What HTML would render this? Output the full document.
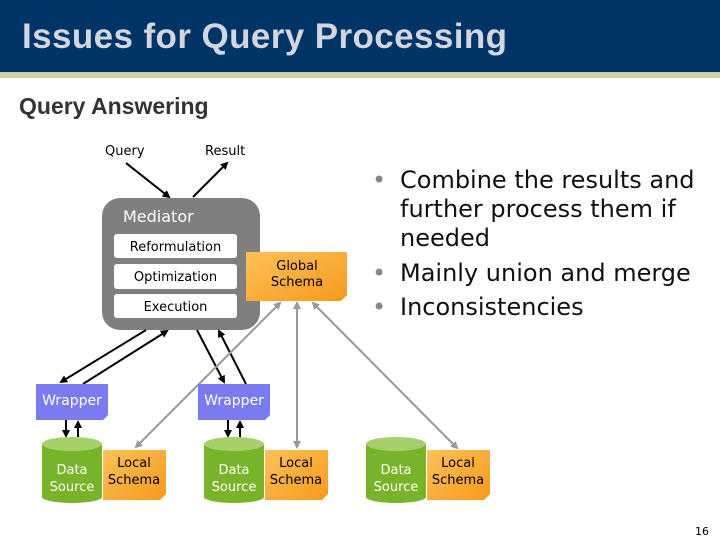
<!DOCTYPE html>
<html><head><meta charset="utf-8"><style>
body{margin:0;width:720px;height:540px;overflow:hidden;background:#fff;font-family:"Liberation Sans","DejaVu Sans",sans-serif}
</style></head><body>
<svg width="720" height="540" viewBox="0 0 720 540" xmlns="http://www.w3.org/2000/svg" font-family="DejaVu Sans, Liberation Sans, sans-serif">
<defs>
<linearGradient id="og" x1="0" y1="0" x2="1" y2="1"><stop offset="0" stop-color="#fdc15a"/><stop offset="1" stop-color="#f59a1c"/></linearGradient>
<marker id="ab" markerWidth="8" markerHeight="8" refX="6" refY="4" orient="auto" markerUnits="userSpaceOnUse"><path d="M0,0 L8,4 L0,8 z" fill="#000"/></marker>
<marker id="ag" markerWidth="8" markerHeight="8" refX="6" refY="4" orient="auto" markerUnits="userSpaceOnUse"><path d="M0,0 L8,4 L0,8 z" fill="#999"/></marker>
<marker id="agr" markerWidth="8" markerHeight="8" refX="2" refY="4" orient="auto" markerUnits="userSpaceOnUse"><path d="M8,0 L0,4 L8,8 z" fill="#999"/></marker>
</defs>
<rect x="0" y="0" width="720" height="72" fill="#003366"/>
<rect x="0" y="72" width="720" height="6" fill="#cfd0a8"/>
<text x="22" y="48" font-family="Liberation Sans, sans-serif" font-weight="bold" font-size="35" letter-spacing="0.4" fill="#d2d6de">Issues for Query Processing</text>
<text x="19" y="114" font-family="Liberation Sans, sans-serif" font-weight="bold" font-size="23" fill="#333">Query Answering</text>

<text x="105" y="155" font-size="13" fill="#000">Query</text>
<text x="205" y="155" font-size="13" fill="#000">Result</text>
<line x1="126" y1="163" x2="169" y2="197" stroke="#000" stroke-width="2" marker-end="url(#ab)"/>
<line x1="193" y1="197" x2="227" y2="163" stroke="#000" stroke-width="2" marker-end="url(#ab)"/>

<rect x="102" y="198" width="158" height="132" rx="18" fill="#7f7f7f"/>
<text x="123" y="222" font-size="16" fill="#fff">Mediator</text>
<rect x="114" y="234" width="123" height="24" rx="3" fill="#fff"/>
<text x="175.5" y="251" font-size="13" text-anchor="middle">Reformulation</text>
<rect x="114" y="264" width="123" height="25" rx="3" fill="#fff"/>
<text x="175.5" y="281" font-size="13" text-anchor="middle">Optimization</text>
<rect x="114" y="294" width="123" height="24" rx="3" fill="#fff"/>
<text x="175.5" y="311" font-size="13" text-anchor="middle">Execution</text>

<path d="M246,252 H347 V295 L341,301 H246 Z" fill="url(#og)"/>
<text x="297" y="270" font-size="13" text-anchor="middle">Global</text>
<text x="297" y="286" font-size="13" text-anchor="middle">Schema</text>

<line x1="146" y1="330" x2="61" y2="382" stroke="#000" stroke-width="2" marker-end="url(#ab)"/>
<line x1="83" y1="384" x2="167" y2="331" stroke="#000" stroke-width="2" marker-end="url(#ab)"/>
<line x1="197" y1="330" x2="224" y2="382" stroke="#000" stroke-width="2" marker-end="url(#ab)"/>
<line x1="246" y1="384" x2="219" y2="331" stroke="#000" stroke-width="2" marker-end="url(#ab)"/>

<line x1="280" y1="303" x2="136" y2="447" stroke="#999" stroke-width="2" marker-start="url(#agr)" marker-end="url(#ag)"/>
<line x1="297" y1="303" x2="297" y2="447" stroke="#999" stroke-width="2" marker-start="url(#agr)" marker-end="url(#ag)"/>
<line x1="313" y1="303" x2="457" y2="448" stroke="#999" stroke-width="2" marker-start="url(#agr)" marker-end="url(#ag)"/>

<path d="M36,384 H108 V415 L103,420 H36 Z" fill="#7b7bef"/>
<text x="72" y="405" font-size="14" fill="#fff" text-anchor="middle">Wrapper</text>
<path d="M198,384 H270 V415 L265,420 H198 Z" fill="#7b7bef"/>
<text x="234" y="405" font-size="14" fill="#fff" text-anchor="middle">Wrapper</text>

<line x1="66" y1="420" x2="66" y2="436" stroke="#000" stroke-width="2" marker-end="url(#ab)"/>
<line x1="78" y1="437" x2="78" y2="422" stroke="#000" stroke-width="2" marker-end="url(#ab)"/>
<line x1="228" y1="420" x2="228" y2="436" stroke="#000" stroke-width="2" marker-end="url(#ab)"/>
<line x1="240" y1="437" x2="240" y2="422" stroke="#000" stroke-width="2" marker-end="url(#ab)"/>

<g id="ds">
<path d="M42,444 V497 A30,6 0 0 0 102,497 V444 Z" fill="#78b42a"/>
<ellipse cx="72" cy="444" rx="30" ry="7" fill="#a8d06a"/>
<text x="72" y="474" font-size="13" fill="#fff" text-anchor="middle">Data</text>
<text x="72" y="491" font-size="13" fill="#fff" text-anchor="middle">Source</text>
<path d="M103,450 H166 V494 L160,500 H103 Z" fill="url(#og)"/>
<text x="134" y="467" font-size="13" text-anchor="middle">Local</text>
<text x="134" y="484" font-size="13" text-anchor="middle">Schema</text>
</g>
<use href="#ds" x="162"/>
<use href="#ds" x="324"/>

<g font-family="DejaVu Sans, sans-serif" font-size="24" fill="#111">
<text x="372" y="188" fill="#888">•</text><text x="400" y="188">Combine the results and</text>
<text x="400" y="217">further process them if</text>
<text x="400" y="246">needed</text>
<text x="372" y="281" fill="#888">•</text><text x="400" y="281">Mainly union and merge</text>
<text x="372" y="315" fill="#888">•</text><text x="400" y="315">Inconsistencies</text>
</g>
<text x="709" y="535" font-size="11" text-anchor="end">16</text>
</svg>
</body></html>
